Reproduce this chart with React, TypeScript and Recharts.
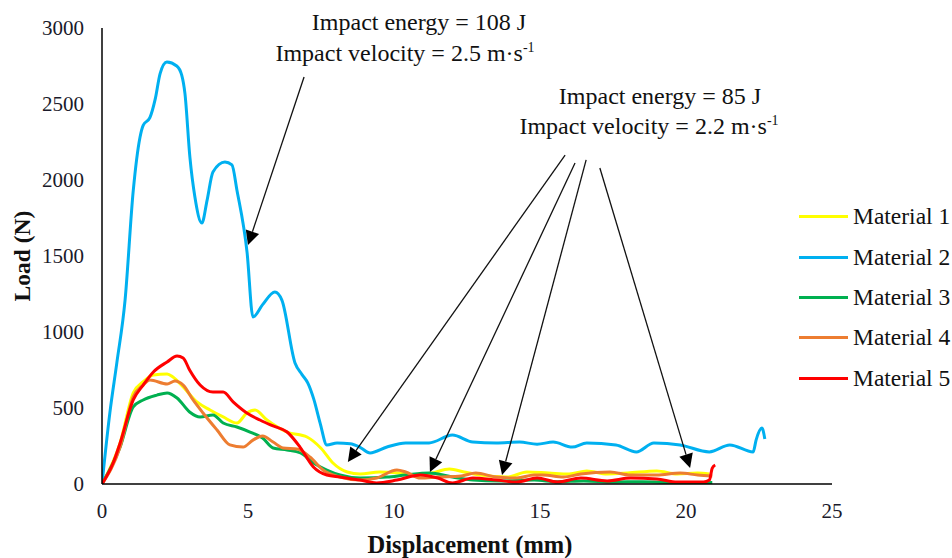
import React from 'react';
import { LineChart, Line, XAxis, YAxis, ReferenceLine } from 'recharts';

const xTicks = [0, 5, 10, 15, 20, 25];
const yTicks = [0, 500, 1000, 1500, 2000, 2500, 3000];

const seriesNames = ['Material 1', 'Material 2', 'Material 3', 'Material 4', 'Material 5'];
const seriesColors = ['#FFFF00', '#00B0F0', '#00B050', '#ED7D31', '#FF0000'];

const material1 = [
  [0, 0], [0.62, 270], [1.07, 600], [1.41, 673], [1.76, 717], [2.23, 724], [2.43, 704], [2.78, 638],
  [3.25, 540], [3.7, 487], [4.15, 441], [4.62, 401], [4.96, 467], [5.24, 487], [5.65, 421], [6.34, 342],
  [7.02, 309], [7.5, 235], [7.9, 140], [8.4, 79], [8.84, 66], [9.5, 79], [10.2, 72], [10.9, 59],
  [11.3, 72], [11.9, 99], [12.4, 79], [12.95, 59], [13.9, 46], [14.55, 79], [15.3, 72], [16.0, 66],
  [16.6, 86], [17.3, 66], [18.0, 72], [19.0, 86], [19.7, 66], [20.4, 72], [20.8, 66],
];

const material2 = [
  [0, 0], [0.27, 470], [0.51, 800], [0.79, 1210], [1.07, 1930], [1.3, 2280], [1.41, 2360], [1.64, 2410],
  [1.82, 2530], [1.99, 2700], [2.22, 2776], [2.56, 2750], [2.73, 2690], [2.84, 2570], [3.01, 2150],
  [3.18, 1890], [3.42, 1717], [3.6, 1868], [3.8, 2053], [4.21, 2118], [4.45, 2099], [4.62, 1934],
  [4.97, 1520], [5.17, 1099], [5.5, 1180], [5.92, 1263], [6.16, 1210], [6.61, 796], [6.85, 720],
  [7.05, 664], [7.25, 560], [7.47, 401], [7.7, 257], [8.05, 270], [8.5, 265], [8.85, 240], [9.18, 204],
  [9.76, 243], [10.4, 270], [11.2, 270], [12.0, 322], [12.7, 276], [13.5, 270], [14.3, 276], [14.9, 262],
  [15.45, 276], [16.1, 243], [16.6, 270], [17.6, 257], [18.3, 211], [18.9, 270], [19.8, 257], [20.8, 211],
  [21.5, 257], [22.3, 211], [22.4, 289], [22.6, 368], [22.7, 296],
];

const material3 = [
  [0, 0], [0.62, 243], [1.07, 507], [1.41, 553], [1.88, 585], [2.23, 599], [2.57, 566], [3.0, 474],
  [3.36, 441], [3.8, 454], [4.15, 401], [4.62, 375], [5.07, 342], [5.5, 303], [5.86, 237], [6.34, 224],
  [6.8, 204], [7.24, 138], [7.7, 92], [8.15, 59], [8.84, 39], [9.76, 46], [10.4, 59], [11.2, 72],
  [12.0, 46], [12.7, 26], [13.6, 20], [14.8, 26], [15.6, 15], [16.5, 20], [17.5, 13], [18.5, 15],
  [19.5, 10], [20.2, 8], [20.9, 10],
];

const material4 = [
  [0, 0], [0.62, 243], [1.07, 573], [1.41, 651], [1.64, 684], [2.23, 658], [2.5, 678], [2.78, 651],
  [3.12, 553], [3.46, 467], [3.94, 355], [4.38, 257], [4.83, 243], [5.17, 289], [5.5, 316], [5.86, 276],
  [6.2, 237], [6.68, 230], [7.12, 178], [7.57, 92], [8.15, 46], [8.84, 26], [9.4, 39], [10.1, 92],
  [10.4, 79], [10.9, 39], [11.5, 46], [12.3, 53], [12.8, 72], [13.5, 46], [14.2, 39], [14.8, 59],
  [15.1, 59], [15.8, 46], [16.4, 66], [17.4, 79], [18.1, 59], [19.0, 59], [19.8, 72], [20.4, 59],
  [20.9, 53],
];

const material5 = [
  [0, 0], [0.38, 138], [0.62, 270], [1.07, 553], [1.41, 651], [1.76, 737], [2.23, 803], [2.57, 842],
  [2.78, 829], [3.0, 750], [3.36, 651], [3.8, 605], [4.15, 605], [4.49, 540], [4.96, 467], [5.41, 421],
  [5.86, 382], [6.34, 342], [6.78, 243], [7.24, 112], [7.7, 59], [8.15, 46], [8.84, 26], [9.4, 7],
  [10.1, 26], [10.9, 59], [11.5, 39], [12.0, 7], [12.7, 39], [13.5, 26], [14.2, 13], [14.9, 39],
  [15.6, 13], [16.4, 39], [17.3, 20], [18.1, 39], [19.0, 33], [19.7, 13], [20.6, 13], [20.8, 26],
  [20.9, 105], [21.0, 125],
];

const allSeries = [material1, material2, material3, material4, material5];

// annotation arrows: [startX, startY, tipX, tipY] in data units
const arrows108 = [[6.92, 2678, 5.0, 1572]];
const arrows85 = [
  [15.86, 2164, 8.42, 145],
  [16.2, 2112, 11.23, 79],
  [16.58, 2132, 13.7, 59],
  [17.05, 2079, 20.14, 105],
];

const FONT = "'Liberation Serif', Tinos, 'Times New Roman', Times, 'DejaVu Serif', serif";

const toPoints = (arr: number[][]) => arr.map(([x, y]) => ({ x, y }));

const ArrowShape = (props: any) => {
  const { x1, y1, x2, y2 } = props;
  const dx = x2 - x1;
  const dy = y2 - y1;
  const len = Math.sqrt(dx * dx + dy * dy);
  const ux = dx / len;
  const uy = dy / len;
  const headLen = 14;
  const headW = 7;
  const bx = x2 - ux * headLen;
  const by = y2 - uy * headLen;
  const px = -uy;
  const py = ux;
  return (
    <g>
      <line x1={x1} y1={y1} x2={bx} y2={by} stroke="#111" strokeWidth={1.3} />
      <polygon
        points={`${x2},${y2} ${bx + px * headW},${by + py * headW} ${bx - px * headW},${by - py * headW}`}
        fill="#000"
      />
    </g>
  );
};

const YTitle = (props: any) => {
  const vb = props.viewBox || {};
  const cy = vb.y + vb.height / 2;
  return (
    <text
      x={22}
      y={cy}
      transform={`rotate(-90, 22, ${cy})`}
      textAnchor="middle"
      dominantBaseline="central"
      style={{ fontFamily: FONT }}
      fontWeight="bold"
      fontSize={23.5}
      fill="#111"
    >
      Load (N)
    </text>
  );
};

const XTitle = (props: any) => {
  const vb = props.viewBox || {};
  const cx = vb.x + vb.width / 2;
  return (
    <text x={cx + 3} y={553} textAnchor="middle" style={{ fontFamily: FONT }} fontWeight="bold" fontSize={24.5} fill="#111">
      Displacement (mm)
    </text>
  );
};

const annStyle: React.CSSProperties = {
  position: 'absolute',
  width: 400,
  textAlign: 'center',
  fontFamily: FONT,
  fontSize: 24,
  lineHeight: '26px',
  height: 26,
  color: '#111',
  whiteSpace: 'nowrap',
};

const supStyle: React.CSSProperties = { fontSize: 14, position: 'relative', top: -9, lineHeight: 0 };

export default function App() {
  return (
    <div style={{ position: 'absolute', left: 0, top: 0, width: 952, height: 558, background: '#fff', fontFamily: FONT }}>
      <LineChart width={952} height={558} margin={{ top: 28, right: 120, bottom: 0, left: 21 }} style={{ fontFamily: FONT }}>
        <XAxis
          type="number"
          dataKey="x"
          domain={[0, 25]}
          ticks={xTicks}
          interval={0}
          tickLine={false}
          tickMargin={13}
          height={74}
          axisLine={{ stroke: '#000', strokeWidth: 1.5 }}
          tick={{ style: { fontFamily: FONT }, fontSize: 21, fill: '#1a1a2a' }}
          allowDataOverflow
          label={<XTitle />}
        />
        <YAxis
          type="number"
          dataKey="y"
          domain={[0, 3000]}
          ticks={yTicks}
          interval={0}
          tickLine={false}
          tickMargin={12}
          width={81}
          axisLine={{ stroke: '#000', strokeWidth: 1.5 }}
          tick={{ style: { fontFamily: FONT }, fontSize: 21, fill: '#1a1a2a' }}
          allowDataOverflow
          label={<YTitle />}
        />
        {allSeries.map((s, i) => (
          <Line
            key={seriesNames[i]}
            data={toPoints(s)}
            dataKey="y"
            name={seriesNames[i]}
            type="monotone"
            stroke={seriesColors[i]}
            strokeWidth={3}
            dot={false}
            activeDot={false}
            isAnimationActive={false}
          />
        ))}
        {[...arrows108, ...arrows85].map((a, i) => (
          <ReferenceLine
            key={'arr' + i}
            segment={[{ x: a[0], y: a[1] }, { x: a[2], y: a[3] }]}
            ifOverflow="visible"
            shape={<ArrowShape />}
          />
        ))}
      </LineChart>

      <div style={{ ...annStyle, left: 419 - 200, top: 9 }}>Impact energy = 108 J</div>
      <div style={{ ...annStyle, left: 405 - 200, top: 40 }}>
        Impact velocity = 2.5 m·s<span style={supStyle}>-1</span>
      </div>
      <div style={{ ...annStyle, left: 660 - 200, top: 83 }}>Impact energy = 85 J</div>
      <div style={{ ...annStyle, left: 649 - 200, top: 113 }}>
        Impact velocity = 2.2 m·s<span style={supStyle}>-1</span>
      </div>

      {seriesNames.map((n, i) => (
        <div
          key={n}
          style={{
            position: 'absolute',
            left: 799,
            top: [216, 257, 297, 337, 378][i] - 13,
            height: 26,
            display: 'flex',
            alignItems: 'center',
            fontFamily: FONT,
            fontSize: 23.5,
            color: '#111',
            whiteSpace: 'nowrap',
          }}
        >
          <span style={{ display: 'inline-block', width: 49, height: 3, background: seriesColors[i], marginRight: 5 }} />
          {n}
        </div>
      ))}
    </div>
  );
}
